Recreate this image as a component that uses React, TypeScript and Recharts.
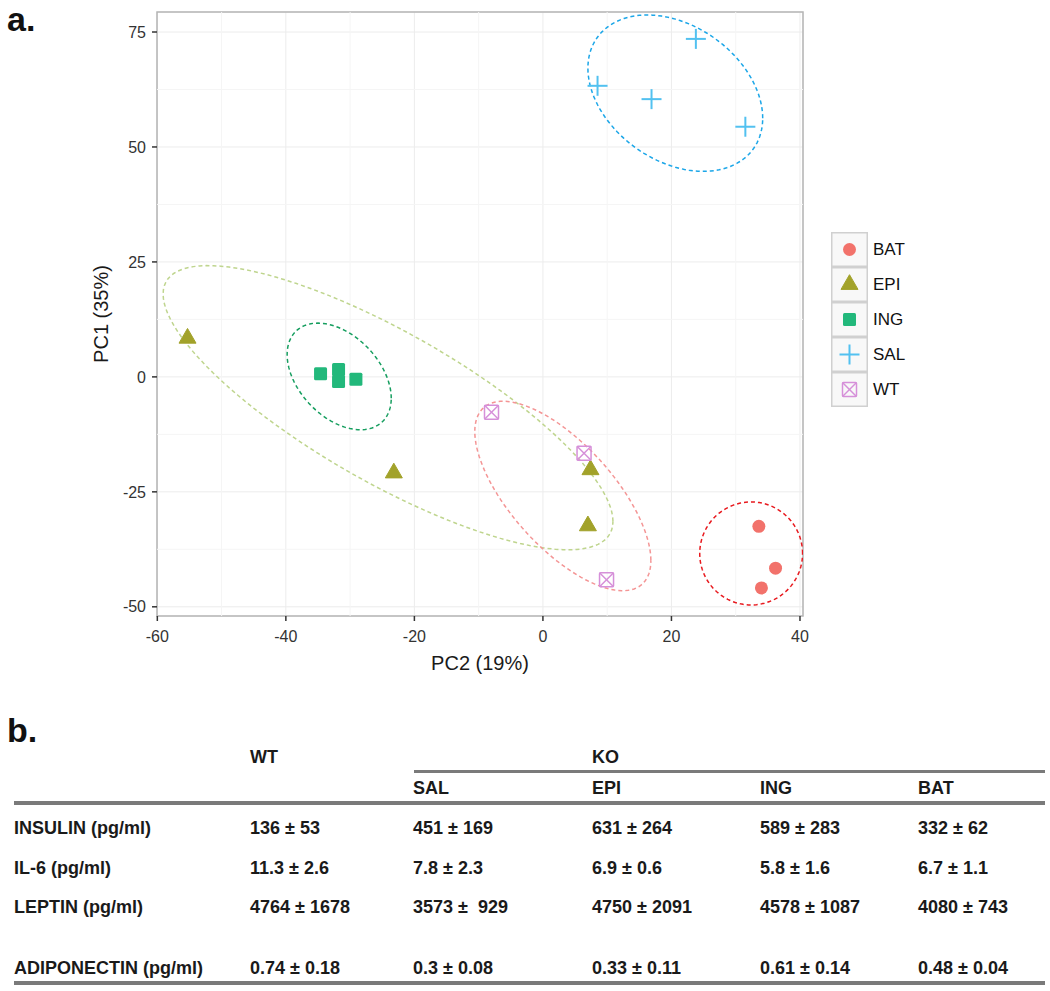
import React from 'react';
import {
  ScatterChart,
  Scatter,
  XAxis,
  YAxis,
  CartesianGrid,
  ReferenceLine,
  ReferenceArea,
  Label,
} from 'recharts';

const SANS = '"Liberation Sans", Arial, sans-serif';

// groups in legend order
const groups = ['BAT', 'EPI', 'ING', 'SAL', 'WT'];

// PCA scores: x = PC2, y = PC1
const batScores = [
  { x: 33.6, y: -32.5 },
  { x: 36.2, y: -41.6 },
  { x: 34.0, y: -45.9 },
];
const epiScores = [
  { x: -55.3, y: 8.4 },
  { x: -23.2, y: -20.9 },
  { x: 7.4, y: -20.2 },
  { x: 7.0, y: -32.4 },
];
const ingScores = [
  { x: -34.6, y: 0.7 },
  { x: -31.8, y: 1.6 },
  { x: -31.8, y: -1.0 },
  { x: -29.1, y: -0.5 },
];
const salScores = [
  { x: 23.8, y: 73.5 },
  { x: 8.5, y: 63.3 },
  { x: 16.9, y: 60.4 },
  { x: 31.5, y: 54.4 },
];
const wtScores = [
  { x: -8.0, y: -7.7 },
  { x: 6.4, y: -16.6 },
  { x: 9.9, y: -44.1 },
];

// confidence ellipses: centre, half extent (x, y) and tilt (correlation)
const ellipseGroups = ['SAL', 'EPI', 'ING', 'WT', 'BAT'];
const ellipseCentres = [[20.6, 61.7], [-24.1, -6.7], [-31.7, 0.1], [3.1, -25.9], [32.4, -38.4]];
const ellipseRadii = [[13.6, 17.0], [35.0, 30.9], [8.1, 11.6], [13.7, 20.6], [8.0, 11.2]];
const ellipseTilt = [-0.32, -0.8, -0.41, -0.68, 0.0];

const xTicks = [-60, -40, -20, 0, 20, 40];
const xMinor = [-50, -30, -10, 10, 30];
const yTicks = [-50, -25, 0, 25, 50, 75];
const yMinor = [-37.5, -12.5, 12.5, 37.5, 62.5];
const X_DOMAIN = [-60.05, 40.47];
const Y_DOMAIN = [-52.0, 79.35];

// table (panel b)
const rowLabels = ['INSULIN (pg/ml)', 'IL-6 (pg/ml)', 'LEPTIN (pg/ml)', 'ADIPONECTIN (pg/ml)'];
const columnHeads = ['SAL', 'EPI', 'ING', 'BAT'];
const wtValues = ['136 ± 53', '11.3 ± 2.6', '4764 ± 1678', '0.74 ± 0.18'];
const salValues = ['451 ± 169', '7.8 ± 2.3', '3573 ±  929', '0.3 ± 0.08'];
const epiValues = ['631 ± 264', '6.9 ± 0.6', '4750 ± 2091', '0.33 ± 0.11'];
const ingValues = ['589 ± 283', '5.8 ± 1.6', '4578 ± 1087', '0.61 ± 0.14'];
const batValues = ['332 ± 62', '6.7 ± 1.1', '4080 ± 743', '0.48 ± 0.04'];

const pointColors: Record<string, string> = {
  BAT: '#f2726b',
  EPI: '#a2a22a',
  ING: '#22b87b',
  SAL: '#52c1f0',
  WT: '#d690d9',
};

const ellipseColors: Record<string, string> = {
  BAT: '#e8191e',
  EPI: '#bfd58e',
  ING: '#169e5f',
  SAL: '#1ba6e8',
  WT: '#f49595',
};

const ellipseOutline = (i: number) => {
  const [cx, cy] = ellipseCentres[i];
  const [rx, ry] = ellipseRadii[i];
  const rho = ellipseTilt[i];
  const k = Math.sqrt(1 - rho * rho);
  const pts = [];
  for (let s = 0; s <= 120; s++) {
    const t = (s / 120) * Math.PI * 2;
    pts.push({ x: cx + rx * Math.cos(t), y: cy + ry * (rho * Math.cos(t) + k * Math.sin(t)) });
  }
  return pts;
};

const Marker = ({ group, cx, cy }: { group: string; cx: number; cy: number }) => {
  const c = pointColors[group];
  if (group === 'BAT') return <circle cx={cx} cy={cy} r={6.5} fill={c} />;
  if (group === 'EPI') {
    return (
      <polygon
        points={`${cx},${cy - 9.8} ${cx - 8.5},${cy + 4.9} ${cx + 8.5},${cy + 4.9}`}
        fill={c}
        stroke={c}
        strokeWidth={1}
        strokeLinejoin="round"
      />
    );
  }
  if (group === 'ING') return <rect x={cx - 6.5} y={cy - 6.5} width={13} height={13} rx={1.5} fill={c} />;
  if (group === 'SAL') {
    return (
      <g stroke={c} strokeWidth={2}>
        <line x1={cx - 10} y1={cy} x2={cx + 10} y2={cy} />
        <line x1={cx} y1={cy - 10} x2={cx} y2={cy + 10} />
      </g>
    );
  }
  return (
    <g stroke={c} strokeWidth={1.5} fill="none">
      <rect x={cx - 7} y={cy - 7} width={14} height={14} rx={1} />
      <line x1={cx - 7} y1={cy - 7} x2={cx + 7} y2={cy + 7} />
      <line x1={cx - 7} y1={cy + 7} x2={cx + 7} y2={cy - 7} />
    </g>
  );
};

const seriesData: Record<string, { x: number; y: number }[]> = {
  BAT: batScores,
  EPI: epiScores,
  ING: ingScores,
  SAL: salScores,
  WT: wtScores,
};

// legend drawn beside the panel, like ggplot's guide box
const GroupLegend = () => (
  <div style={{ position: 'absolute', left: 831, top: 232, fontFamily: SANS }}>
    {groups.map((g) => (
      <div key={g} style={{ display: 'flex', alignItems: 'center', height: 35 }}>
        <svg width={37} height={35} style={{ display: 'block' }}>
          <rect x={0.75} y={0.75} width={35.5} height={33.5} fill="#f8f8f8" stroke="#d0d0d0" strokeWidth={1.5} />
          <Marker group={g} cx={18.5} cy={17.5} />
        </svg>
        <span style={{ marginLeft: 5, fontSize: 17, color: '#111' }}>{g}</span>
      </div>
    ))}
  </div>
);

const XTitle = ({ viewBox }: any) => (
  <text x={viewBox.x + viewBox.width / 2} y={viewBox.y + 54} textAnchor="middle" fontSize={20} fill="#1a1a1a" fontFamily={SANS}>
    PC2 (19%)
  </text>
);

const YTitle = ({ viewBox }: any) => {
  const x = viewBox.x + 31;
  const y = viewBox.y + viewBox.height / 2;
  return (
    <text x={x} y={y} transform={`rotate(-90, ${x}, ${y})`} textAnchor="middle" fontSize={20} fill="#1a1a1a" fontFamily={SANS}>
      PC1 (35%)
    </text>
  );
};

const tickStyle = { fill: '#333', fontSize: 16, fontFamily: SANS };

const PcaPlot = () => (
  <ScatterChart width={1050} height={680} margin={{ top: 12, right: 247, bottom: 0, left: 77 }}>
    <CartesianGrid stroke="#ececec" strokeWidth={1} />
    {xMinor.map((v) => (
      <ReferenceLine key={`xm${v}`} x={v} stroke="#f5f5f5" strokeWidth={1} />
    ))}
    {yMinor.map((v) => (
      <ReferenceLine key={`ym${v}`} y={v} stroke="#f5f5f5" strokeWidth={1} />
    ))}
    <XAxis
      type="number"
      dataKey="x"
      domain={X_DOMAIN}
      ticks={xTicks}
      allowDataOverflow
      height={64}
      axisLine={false}
      tickSize={5}
      tickMargin={10}
      tickLine={{ stroke: '#333', strokeWidth: 1.5 }}
      tick={tickStyle}
    >
      <Label content={<XTitle />} />
    </XAxis>
    <YAxis
      type="number"
      dataKey="y"
      domain={Y_DOMAIN}
      ticks={yTicks}
      allowDataOverflow
      width={80}
      axisLine={false}
      tickSize={5}
      tickMargin={6}
      tickLine={{ stroke: '#333', strokeWidth: 1.5 }}
      tick={tickStyle}
    >
      <Label content={<YTitle />} />
    </YAxis>
    <ReferenceArea
      x1={X_DOMAIN[0]}
      x2={X_DOMAIN[1]}
      y1={Y_DOMAIN[0]}
      y2={Y_DOMAIN[1]}
      fill="none"
      stroke="#b5b5b5"
      strokeWidth={1.5}
    />
    {ellipseGroups.map((g, i) => (
      <Scatter
        key={`ell-${g}`}
        data={ellipseOutline(i)}
        line={{ stroke: ellipseColors[g], strokeWidth: 1.5, strokeDasharray: '4 3' }}
        lineType="joint"
        shape={() => <g />}
        legendType="none"
        isAnimationActive={false}
      />
    ))}
    {groups.map((g) => (
      <Scatter
        key={g}
        name={g}
        data={seriesData[g]}
        shape={(p: any) => <Marker group={g} cx={p.cx} cy={p.cy} />}
        isAnimationActive={false}
      />
    ))}
  </ScatterChart>
);

const cellText = (text: string, left: number, centerY: number, key: string) => (
  <div
    key={key}
    style={{
      position: 'absolute',
      left,
      top: centerY - 11,
      height: 22,
      lineHeight: '22px',
      fontSize: 18,
      fontWeight: 'bold',
      whiteSpace: 'pre',
      color: '#1a1a1a',
    }}
  >
    {text}
  </div>
);

const rowY = [828, 868, 907, 968];
const colX = [250, 413, 592, 760, 918];
const valueColumns = [wtValues, salValues, epiValues, ingValues, batValues];

const HormoneTable = () => (
  <div style={{ position: 'absolute', left: 0, top: 0, width: 1050, height: 991, fontFamily: SANS, pointerEvents: 'none' }}>
    {cellText('WT', colX[0], 757, 'h-wt')}
    {cellText('KO', colX[2], 757, 'h-ko')}
    <div style={{ position: 'absolute', left: 414, top: 770, width: 631, height: 3, background: '#7a7a7a' }} />
    {columnHeads.map((h, i) => cellText(h, colX[i + 1], 788, `sub-${h}`))}
    <div style={{ position: 'absolute', left: 14, top: 801, width: 1031, height: 4, background: '#7a7a7a' }} />
    {rowLabels.map((r, i) => cellText(r, 14, rowY[i], `row-${i}`))}
    {valueColumns.map((col, c) => col.map((v, i) => cellText(v, colX[c], rowY[i], `v-${c}-${i}`)))}
    <div style={{ position: 'absolute', left: 14, top: 981, width: 1031, height: 4, background: '#7a7a7a' }} />
  </div>
);

const panelLetter = (text: string, baseline: number) => (
  <div
    style={{
      position: 'absolute',
      left: 7,
      top: baseline - 30,
      fontSize: 34,
      lineHeight: '36px',
      fontWeight: 'bold',
      fontFamily: SANS,
      color: '#111',
    }}
  >
    {text}
  </div>
);

export default function App() {
  return (
    <div style={{ position: 'absolute', left: 0, top: 0, width: 1050, height: 991, background: '#fff' }}>
      <PcaPlot />
      <GroupLegend />
      {panelLetter('a.', 31)}
      {panelLetter('b.', 742)}
      <HormoneTable />
    </div>
  );
}
